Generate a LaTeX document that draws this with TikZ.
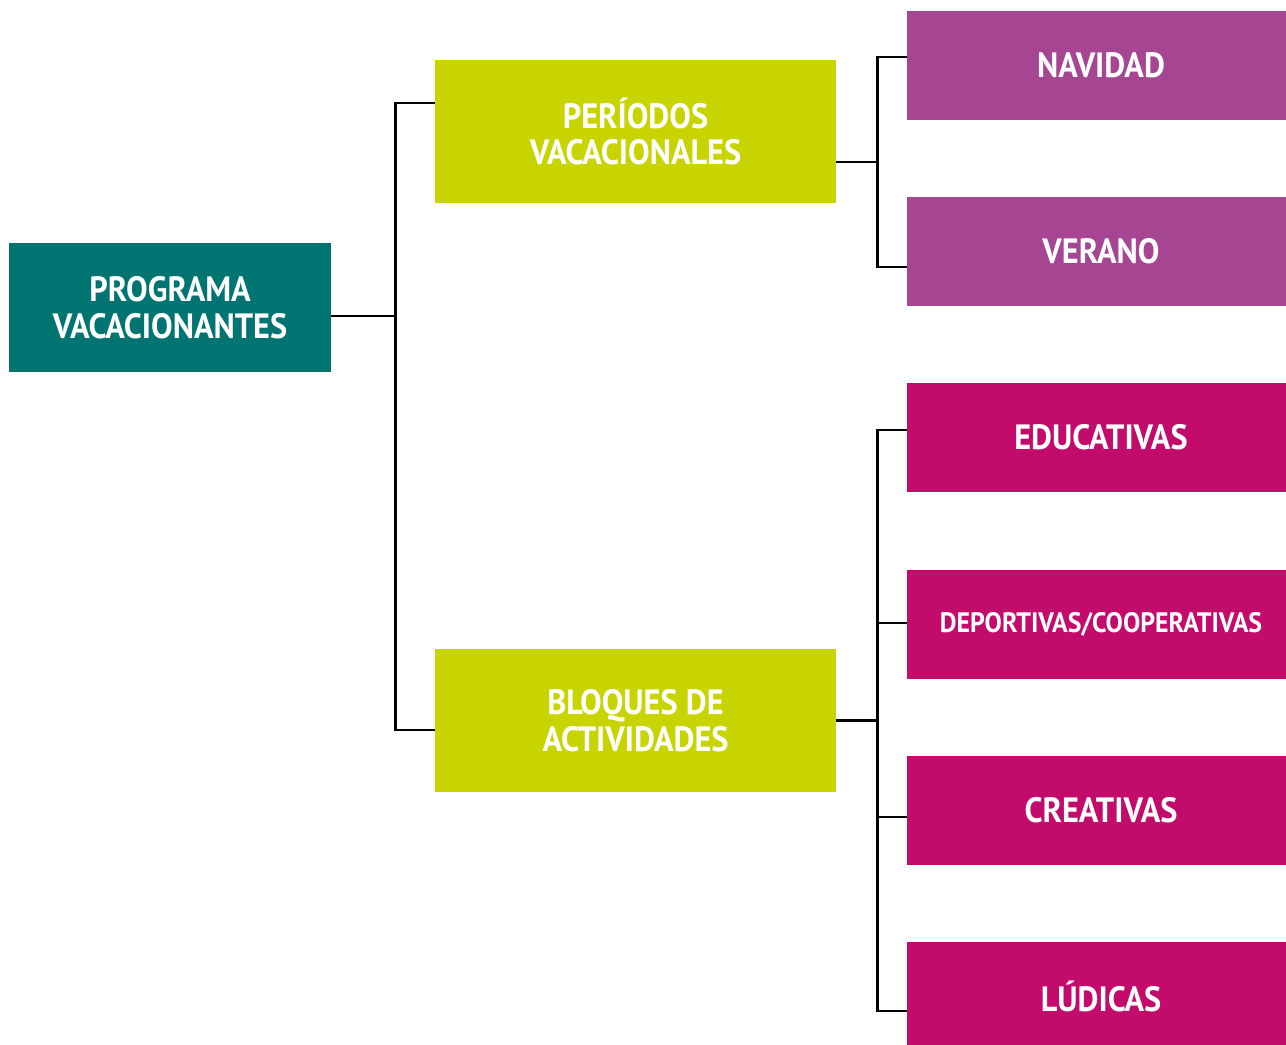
\documentclass[tikz,border=0pt]{standalone}
\usepackage{fontspec}
\setmainfont{PT Sans}[FakeStretch=0.92]
\usepackage{xcolor}
\definecolor{rootteal}{HTML}{007470}
\definecolor{branchlime}{HTML}{C8D400}
\definecolor{periodpurple}{HTML}{A64592}
\definecolor{blockmagenta}{HTML}{C20B6B}
\usepackage{tikz}
\usetikzlibrary{positioning,calc}

\begin{document}
\begin{tikzpicture}[x=0.02cm, y=-0.02cm,
    every node/.style={font=\bfseries\fontsize{20}{21}\selectfont, text=white,
                       align=center, inner sep=0pt},
    root/.style={fill=rootteal, minimum width=6.44cm, minimum height=2.58cm},
    branch/.style={fill=branchlime, minimum width=8.02cm, minimum height=2.86cm},
    period/.style={fill=periodpurple, minimum width=7.76cm, minimum height=2.18cm},
    block/.style={fill=blockmagenta, minimum width=7.76cm, minimum height=2.18cm},
    link/.style={line width=1.6pt, black}]
  \useasboundingbox (0,0) rectangle (1286,1045);
  \node[root]   (prog) at (170,307.5)   {PROGRAMA\\VACACIONANTES};
  \node[branch] (per)  at (635.5,131.5) {PERÍODOS\\VACACIONALES};
  \node[branch] (blo)  at (635.5,720.5) {BLOQUES DE\\ACTIVIDADES};
  \node[period] (nav)  at (1101,65.5)   {NAVIDAD};
  \node[period] (ver)  at (1101,251.5)  {VERANO};
  \node[block]  (edu)  at (1101,437.5)  {EDUCATIVAS};
  \node[block, font=\bfseries\fontsize{16}{18}\selectfont]
                (dep)  at (1101,624.5)  {DEPORTIVAS/COOPERATIVAS};
  \node[block]  (cre)  at (1101,810.5)  {CREATIVAS};
  \node[block]  (lud)  at (1101,996.5)  {LÚDICAS};
  % root to the two branches
  \draw[link] ($(prog.east)+(0,8.5)$) -- ++(64,0) |- ($(per.west)+(0,-28.5)$);
  \draw[link] ($(prog.east)+(0,8.5)$) -- ++(64,0) |- ($(blo.west)+(0,9.5)$);
  % periods
  \draw[link] ($(per.east)+(0,30.5)$) -- ++(41,0) |- ($(nav.west)+(0,-8.5)$);
  \draw[link] ($(per.east)+(0,30.5)$) -- ++(41,0) |- ($(ver.west)+(0,15.5)$);
  % blocks
  \draw[link] (blo.east) -- ++(41,0) |- ($(edu.west)+(0,-7.5)$);
  \draw[link] (blo.east) -- ++(41,0) |- ($(dep.west)+(0,-1.5)$);
  \draw[link] (blo.east) -- ++(41,0) |- ($(cre.west)+(0,6.5)$);
  \draw[link] (blo.east) -- ++(41,0) |- ($(lud.west)+(0,14.5)$);
\end{tikzpicture}
\end{document}
